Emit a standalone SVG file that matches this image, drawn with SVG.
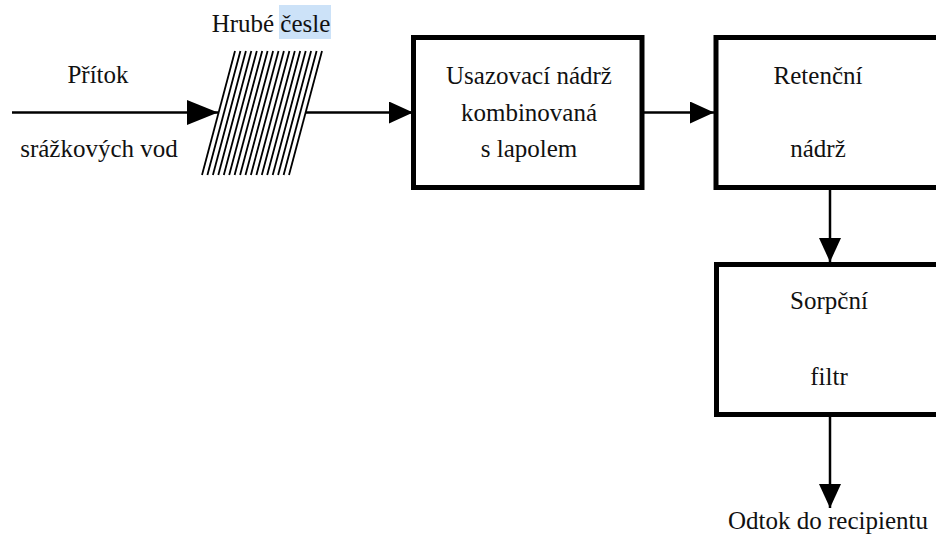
<svg xmlns="http://www.w3.org/2000/svg" width="936" height="536" viewBox="0 0 936 536">
  <defs>
    <style>
      .box { fill: #fff; stroke: #000; stroke-width: 5; }
      .flow { stroke: #000; stroke-width: 2.5; fill: none; }
      .bar { stroke: #000; stroke-width: 1.8; }
    </style>
    <marker id="ah" viewBox="0 0 24 22" refX="24" refY="11" markerWidth="24" markerHeight="22" markerUnits="userSpaceOnUse" orient="auto">
      <path d="M0,0 L24,11 L0,22 Z" fill="#000"/>
    </marker>
    <marker id="ahBig" viewBox="0 0 31 25" refX="31" refY="12.5" markerWidth="31" markerHeight="25" markerUnits="userSpaceOnUse" orient="auto">
      <path d="M0,0 L31,12.5 L0,25 Z" fill="#000"/>
    </marker>
  </defs>

  <g font-family="Liberation Serif, Times New Roman, serif" font-size="25" fill="#111" text-anchor="middle">

  <!-- inflow labels -->
  <g id="inflow">
    <text x="98" y="83">Přítok</text>
    <text x="99" y="157">srážkových vod</text>
  </g>

  <!-- coarse screen: slanted bars -->
  <g id="screen">
    <rect x="279" y="5" width="52" height="34" fill="#cce2f8"/>
    <text x="271" y="32">Hrubé česle</text>
    <g class="bar">
      <line x1="235.0" y1="51" x2="202.0" y2="175"/>
      <line x1="240.4" y1="51" x2="207.4" y2="175"/>
      <line x1="245.9" y1="51" x2="212.9" y2="175"/>
      <line x1="251.3" y1="51" x2="218.3" y2="175"/>
      <line x1="256.8" y1="51" x2="223.8" y2="175"/>
      <line x1="262.2" y1="51" x2="229.2" y2="175"/>
      <line x1="267.6" y1="51" x2="234.6" y2="175"/>
      <line x1="273.1" y1="51" x2="240.1" y2="175"/>
      <line x1="278.5" y1="51" x2="245.5" y2="175"/>
      <line x1="283.9" y1="51" x2="250.9" y2="175"/>
      <line x1="289.4" y1="51" x2="256.4" y2="175"/>
      <line x1="294.8" y1="51" x2="261.8" y2="175"/>
      <line x1="300.2" y1="51" x2="267.2" y2="175"/>
      <line x1="305.7" y1="51" x2="272.7" y2="175"/>
      <line x1="311.1" y1="51" x2="278.1" y2="175"/>
      <line x1="316.6" y1="51" x2="283.6" y2="175"/>
      <line x1="322.0" y1="51" x2="289.0" y2="175"/>
    </g>
  </g>

  <!-- settling tank with separator -->
  <g id="settling">
    <rect class="box" x="413.5" y="37.5" width="228.5" height="150"/>
    <text x="529" y="84">Usazovací nádrž</text>
    <text x="529" y="121">kombinovaná</text>
    <text x="529" y="157">s lapolem</text>
  </g>

  <!-- retention tank -->
  <g id="retention">
    <rect class="box" x="716" y="37.5" width="230" height="150"/>
    <text x="818" y="84">Retenční</text>
    <text x="818" y="157">nádrž</text>
  </g>

  <!-- sorption filter -->
  <g id="filter">
    <rect class="box" x="716.5" y="264.5" width="230" height="150"/>
    <text x="829" y="309">Sorpční</text>
    <text x="829" y="385">filtr</text>
  </g>

  <!-- outflow label -->
  <g id="outflow">
    <text x="828" y="529">Odtok do recipientu</text>
  </g>

  </g>

  <!-- connectors -->
  <g id="connectors">
    <line class="flow" x1="12" y1="112.5" x2="218" y2="112.5" marker-end="url(#ahBig)"/>
    <line class="flow" x1="306" y1="112.5" x2="413" y2="112.5" marker-end="url(#ah)"/>
    <line class="flow" x1="642" y1="112.5" x2="714" y2="112.5" marker-end="url(#ah)"/>
    <line class="flow" x1="830" y1="187.5" x2="830" y2="262" marker-end="url(#ah)"/>
    <line class="flow" x1="830" y1="414.5" x2="830" y2="508" marker-end="url(#ah)"/>
  </g>
</svg>
